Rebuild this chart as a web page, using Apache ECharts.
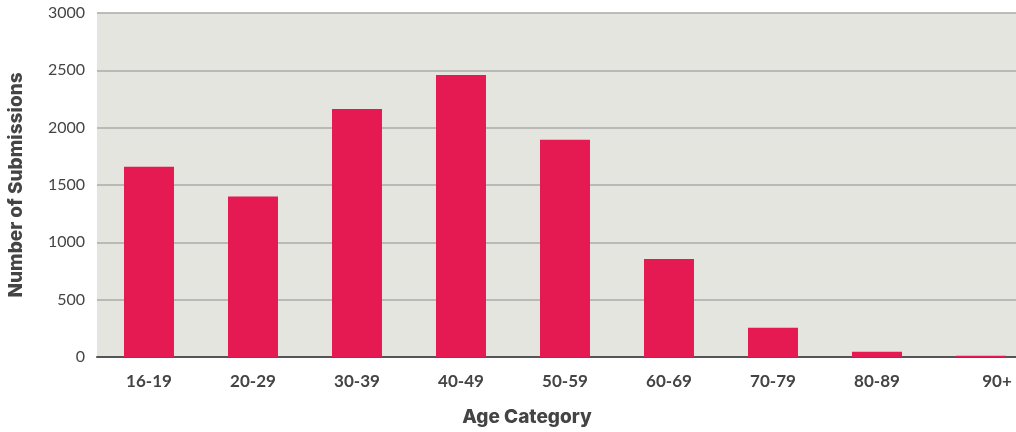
<!DOCTYPE html>
<html>
<head>
<meta charset="utf-8">
<script src="https://cdn.jsdelivr.net/npm/echarts@6/dist/echarts.min.js"></script>
<style>
  html, body { margin: 0; padding: 0; background: #ffffff; }
  #chart { width: 1016px; height: 432px; }
</style>
</head>
<body>
<div id="chart"></div>
<script>
// Submissions by age group
const categories = ['16-19', '20-29', '30-39', '40-49', '50-59', '60-69', '70-79', '80-89', '90+'];
const submissions = [1660, 1400, 2163, 2460, 1895, 855, 255, 46, 10];
const yTicks = [0, 500, 1000, 1500, 2000, 2500, 3000];

const titleFont = 'Inter, "Open Sans", sans-serif';

const chart = echarts.init(document.getElementById('chart'), null, { renderer: 'canvas' });

chart.setOption({
  animation: false,
  grid: {
    left: 97, top: 13, width: 936, bottom: 75,
    containLabel: false,
    outerBoundsMode: 'none',
    show: true, backgroundColor: '#e5e5e0', borderWidth: 0
  },
  graphic: [
    {
      type: 'text',
      x: 527, y: 417,
      style: {
        text: 'Age Category',
        align: 'center', verticalAlign: 'middle',
        fontFamily: titleFont,
        fontWeight: 800,
        fontSize: 19,
        fill: '#444444'
      }
    }
  ],
  xAxis: {
    type: 'category',
    data: categories.map(c => c === '90+'
      ? { value: c, textStyle: { padding: [0, 0, 0, 32] } }
      : c),
    axisLine: { show: true, lineStyle: { color: '#555555', width: 2 } },
    axisTick: { show: false },
    axisLabel: {
      margin: 16,
      color: '#444444',
      fontFamily: 'Lato',
      fontWeight: 'bold',
      fontSize: 17
    }
  },
  yAxis: {
    type: 'value',
    min: yTicks[0],
    max: yTicks[yTicks.length - 1],
    interval: 500,
    name: 'Number of Submissions',
    nameLocation: 'middle',
    nameGap: 71,
    nameTextStyle: {
      color: '#444444',
      fontFamily: titleFont,
      fontWeight: 800,
      fontSize: 19
    },
    axisLine: { show: false },
    axisTick: { show: false },
    axisLabel: {
      margin: 12,
      color: '#444444',
      fontFamily: 'Lato',
      fontSize: 16,
      formatter: v => String(v)
    },
    splitLine: { lineStyle: { color: '#aaaaaa', width: 1.5 } }
  },
  series: [{
    type: 'bar',
    data: submissions,
    barWidth: 50,
    itemStyle: { color: '#e61a52' }
  }]
});
</script>
</body>
</html>
